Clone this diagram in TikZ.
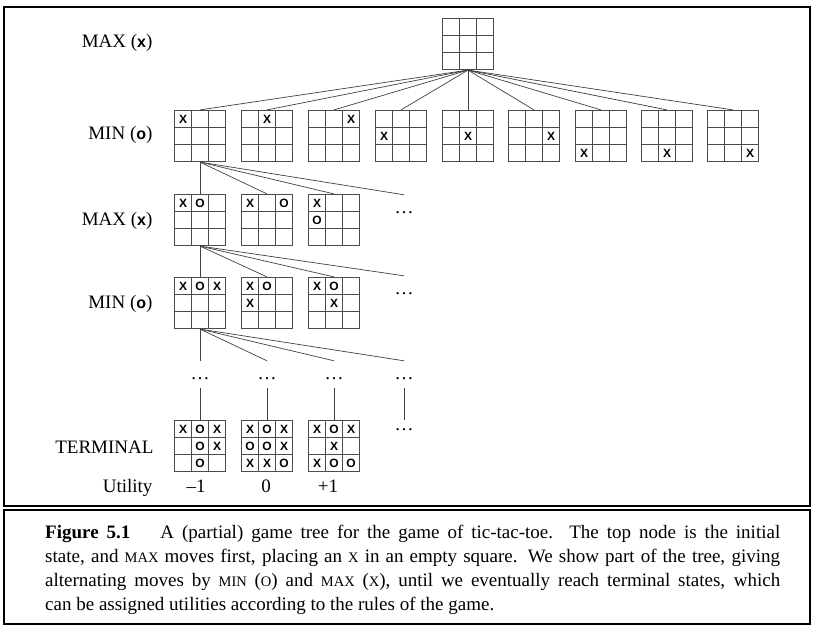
\documentclass[tikz,border=0pt]{standalone}
\usepackage{fontspec}
\setmainfont{Liberation Serif}
\setsansfont{Liberation Sans}
\usetikzlibrary{matrix}

\newcommand{\smc}[1]{{\fontsize{14.5}{24}\selectfont #1}}
\newcommand{\pl}[1]{{\sffamily\bfseries\fontsize{16}{24}\selectfont #1}}

\begin{document}
\begin{tikzpicture}[x=1pt, y=-1pt, font=\fontsize{19}{24}\selectfont,
            cell/.style={draw=black!70, line width=0.8pt, minimum size=17pt, inner sep=0pt, anchor=center,
                font=\sffamily\bfseries\fontsize{12}{12}\selectfont},
            board/.style={matrix of nodes, nodes in empty cells, inner sep=0pt,
                row sep=-0.8pt, column sep=-0.8pt, nodes={cell}},
            moredots/.style={inner sep=0pt, anchor=base, text height=18pt, text depth=9pt},
            link/.style={draw=black!75, line width=0.7pt},
            ply/.style={anchor=base east},
            box/.style={draw, line width=2pt}]

            \useasboundingbox (0,0) rectangle (813,631);

            % Frames
            \draw[box] (4,7) rectangle (810,506.3);
            \draw[box] (4,509.8) rectangle (810,623.5);

            % Level labels
            \node[ply] (lmax0) at (156,48) {MAX (\pl{x})};
            \node[ply] (lmin1) at (156,140) {MIN (\pl{o})};
            \node[ply] (lmax2) at (156,225) {MAX (\pl{x})};
            \node[ply] (lmin3) at (156,308) {MIN (\pl{o})};
            \node[ply] (lterm) at (157,453) {TERMINAL};
            \node[ply] (lutil) at (156,492) {Utility};

            % Root board
            \matrix[board] (b0) at (468,44) { & & \\ & & \\ & & \\ };

            % MIN boards - first move of X
            \matrix[board] (a1) at (200,136) {X & & \\ & & \\ & & \\ };
            \matrix[board] (a2) at (267,136) { & X & \\ & & \\ & & \\ };
            \matrix[board] (a3) at (334,136) { & & X \\ & & \\ & & \\ };
            \matrix[board] (a4) at (401,136) { & & \\ X & & \\ & & \\ };
            \matrix[board] (a5) at (468,136) { & & \\ & X & \\ & & \\ };
            \matrix[board] (a6) at (534,136) { & & \\ & & X \\ & & \\ };
            \matrix[board] (a7) at (601,136) { & & \\ & & \\ X & & \\ };
            \matrix[board] (a8) at (667,136) { & & \\ & & \\ & X & \\ };
            \matrix[board] (a9) at (733,136) { & & \\ & & \\ & & X \\ };

            % MAX boards
            \matrix[board] (c1) at (200,220) {X & O & \\ & & \\ & & \\ };
            \matrix[board] (c2) at (267,220) {X & & O \\ & & \\ & & \\ };
            \matrix[board] (c3) at (334,220) {X & & \\ O & & \\ & & \\ };
            \node[moredots] (cmore) at (404,213) {\dots};

            % MIN boards
            \matrix[board] (e1) at (200,303) {X & O & X \\ & & \\ & & \\ };
            \matrix[board] (e2) at (267,303) {X & O & \\ X & & \\ & & \\ };
            \matrix[board] (e3) at (334,303) {X & O & \\ & X & \\ & & \\ };
            \node[moredots] (emore) at (404,294) {\dots};

            % Skipped plies
            \node[moredots] (d1) at (200,379) {\dots};
            \node[moredots] (d2) at (267,379) {\dots};
            \node[moredots] (d3) at (334,379) {\dots};
            \node[moredots] (d4) at (404,379) {\dots};

            % Terminal boards
            \matrix[board] (t1) at (200,446) {X & O & X \\ & O & X \\ & O & \\ };
            \matrix[board] (t2) at (267,446) {X & O & X \\ O & O & X \\ X & X & O \\ };
            \matrix[board] (t3) at (334,446) {X & O & X \\ & X & \\ X & O & O \\ };
            \node[moredots, text height=10pt] (tmore) at (404,430) {\dots};

            % Utilities
            \node[anchor=base] (u1) at (196,492) {\textendash1};
            \node[anchor=base] (u2) at (266,492) {0};
            \node[anchor=base] (u3) at (328,492) {+1};

            % Tree edges
            \foreach \i in {1,...,9}
                \draw[link] (b0.south) -- (a\i.north);
            \foreach \n in {c1,c2,c3,cmore}
                \draw[link] (a1.south) -- (\n.north);
            \foreach \n in {e1,e2,e3,emore}
                \draw[link] (c1.south) -- (\n.north);
            \foreach \n in {d1,d2,d3,d4}
                \draw[link] (e1.south) -- (\n.north);
            \draw[link] (d1.south) -- (t1.north);
            \draw[link] (d2.south) -- (t2.north);
            \draw[link] (d3.south) -- (t3.north);
            \draw[link] (d4.south) -- (tmore.north);

            % Caption
            \node[anchor=base west, text width=735pt, align=justify, inner sep=0pt] (caption) at (45,538)
                {\textbf{Figure 5.1}\hspace{30pt}A (partial) game tree for the game of tic-tac-toe.  The top node is the initial\linebreak
                state, and \smc{MAX} moves first, placing an \smc{X} in an empty square. We show part of the tree, giving\linebreak
                alternating moves by \smc{MIN} (\smc{O}) and \smc{MAX} (\smc{X}), until we eventually reach terminal states, which\linebreak
                can be assigned utilities according to the rules of the game.};
        \end{tikzpicture}
\end{document}
